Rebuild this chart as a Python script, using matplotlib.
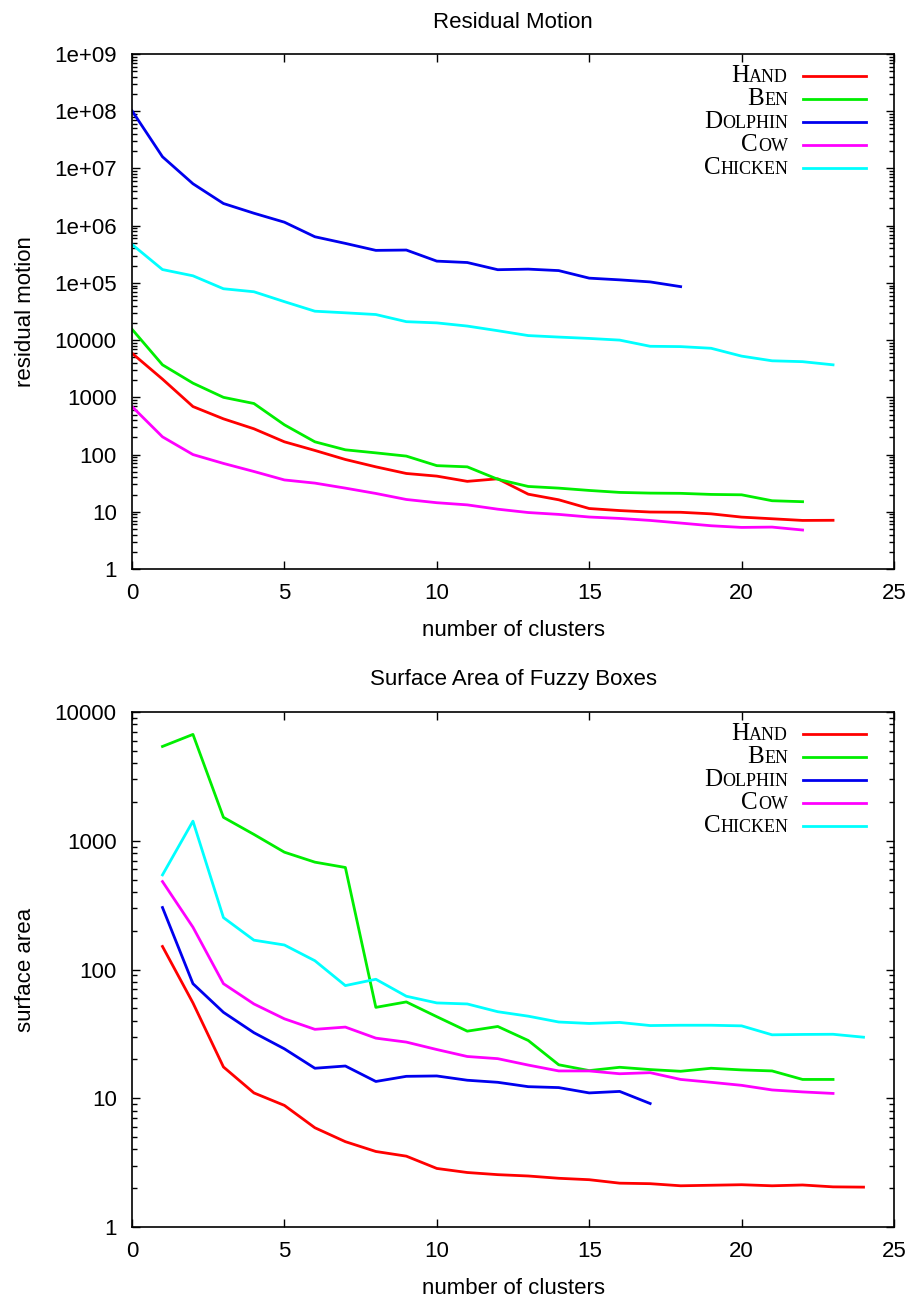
import matplotlib
matplotlib.use("Agg")
import matplotlib.pyplot as plt
import matplotlib.ticker as ticker
from matplotlib.lines import Line2D
from matplotlib.offsetbox import TextArea, HPacker, VPacker, DrawingArea, AnchoredOffsetbox

plt.rcParams['font.family'] = ['Liberation Sans', 'DejaVu Sans']

names = ['Hand', 'Ben', 'Dolphin', 'Cow', 'Chicken']
colors = ['#ff0000', '#00ee00', '#0000ee', '#ff00ff', '#00ffff']

# residual motion, x = 0..n
motion_hand = [5900, 2080, 690, 421, 282, 167, 118, 82, 61, 46.7, 42, 34, 37.7, 20.3,
               16.2, 11.4, 10.5, 9.9, 9.8, 9.2, 8.07, 7.55, 7.06, 7.1]
motion_ben = [15500, 3700, 1770, 1000, 780, 331, 167, 121, 107, 94, 64, 61, 37, 27.7,
              25.9, 23.6, 21.8, 21.2, 21, 20.1, 19.8, 15.6, 15.0]
motion_dolphin = [1.02e8, 1.6e7, 5.4e6, 2.44e6, 1.65e6, 1.15e6, 6.4e5, 4.9e5, 3.7e5, 3.75e5,
                  2.4e5, 2.27e5, 1.7e5, 1.74e5, 1.64e5, 1.21e5, 1.13e5, 1.04e5, 8.6e4]
motion_cow = [690, 204, 100, 70, 50.6, 36, 31.7, 25.9, 20.9, 16.4, 14.4, 13.2, 11.1, 9.7,
              9.0, 8.1, 7.65, 7.06, 6.35, 5.7, 5.33, 5.4, 4.8]
motion_chicken = [4.7e5, 1.71e5, 1.33e5, 7.9e4, 7.0e4, 4.7e4, 3.2e4, 3.0e4, 2.8e4, 2.1e4,
                  2.0e4, 1.76e4, 1.46e4, 1.2e4, 1.13e4, 1.07e4, 1.0e4, 7.8e3, 7.7e3, 7.2e3,
                  5.25e3, 4.35e3, 4.2e3, 3.7e3]

# surface area, x = 1..n
area_hand = [151, 55, 17.5, 11.0, 8.8, 5.9, 4.6, 3.86, 3.55, 2.85, 2.65, 2.55, 2.49,
             2.39, 2.33, 2.19, 2.17, 2.09, 2.11, 2.13, 2.09, 2.12, 2.05, 2.04]
area_ben = [5400, 6700, 1520, 1120, 815, 682, 620, 50.8, 56, 43, 33.2, 36.1, 28.1,
            18.2, 16.4, 17.4, 16.7, 16.2, 17.1, 16.6, 16.3, 14.0, 14.0]
area_dolphin = [303, 77.6, 46.5, 32.3, 24.2, 17.1, 17.8, 13.5, 14.8, 14.9, 13.8, 13.3,
                12.3, 12.1, 11.0, 11.3, 9.1]
area_cow = [482, 213, 77.6, 54, 41.4, 34.3, 35.7, 29.3, 27.3, 23.9, 21.1, 20.3, 18.1,
            16.3, 16.3, 15.5, 15.8, 14.0, 13.3, 12.6, 11.6, 11.2, 10.9]
area_chicken = [543, 1420, 253, 169, 155, 117, 75, 84, 62, 55, 54, 47, 43.4, 39.1, 38.1,
                38.8, 36.7, 36.9, 36.9, 36.5, 31.1, 31.3, 31.4, 29.8]


def fmt_g(v, pos):
	if v < 1e5:
		return '%d' % round(v)
	return '%.0e' % v


def small_caps(name):
	serif = ['Liberation Serif', 'DejaVu Serif']
	first = TextArea(name[0], textprops=dict(size=18, family=serif))
	rest = TextArea(name[1:].upper(), textprops=dict(size=13, family=serif))
	return HPacker(children=[first, rest], align='baseline', pad=0, sep=0)


def add_key(ax):
	rows = []
	for n, c in zip(names, colors):
		da = DrawingArea(45, 12, 0, 0)
		da.add_artist(Line2D([0, 45], [6, 6], color=c, lw=2))
		rows.append(HPacker(children=[small_caps(n), da], align='center', pad=0, sep=11))
	box = VPacker(children=rows, align='right', pad=0, sep=0.8)
	anch = AnchoredOffsetbox(loc='upper right', child=box, frameon=False, pad=0, borderpad=0,
		bbox_to_anchor=(0.963, 0.979), bbox_transform=ax.transAxes)
	ax.add_artist(anch)


def style_axes(ax, title, ylabel, ymax):
	ax.set_yscale('log')
	ax.set_xlim(0, 25)
	ax.set_ylim(1, ymax)
	ax.xaxis.set_major_locator(ticker.MultipleLocator(5))
	ax.yaxis.set_major_locator(ticker.LogLocator(base=10, numticks=20))
	ax.yaxis.set_minor_locator(ticker.LogLocator(base=10, subs=range(2, 10), numticks=20))
	ax.yaxis.set_minor_formatter(ticker.NullFormatter())
	ax.yaxis.set_major_formatter(ticker.FuncFormatter(fmt_g))
	ax.tick_params(which='both', direction='in', top=True, right=True, labelsize=16, width=1)
	ax.tick_params(which='major', length=6)
	ax.tick_params(which='minor', length=3.5)
	ax.tick_params(axis='y', pad=11)
	ax.tick_params(axis='x', pad=10)
	for s in ax.spines.values():
		s.set_linewidth(1.2)
	ax.set_xlabel('number of clusters', fontsize=16)
	ax.xaxis.set_label_coords(0.5, -0.099)
	ax.set_ylabel(ylabel, fontsize=16)
	ax.yaxis.set_label_coords(-0.1256, 0.5)
	ax.text(0.5, 1 + 32 / 515.0, title, transform=ax.transAxes, ha='center', va='center', fontsize=16)
	add_key(ax)


fig = plt.figure(figsize=(9.14, 13.0), dpi=100)
ax1 = fig.add_axes([132 / 914.0, 1 - 569 / 1300.0, 762 / 914.0, 515 / 1300.0])
ax2 = fig.add_axes([132 / 914.0, 1 - 1227 / 1300.0, 762 / 914.0, 515 / 1300.0])

motion = [motion_hand, motion_ben, motion_dolphin, motion_cow, motion_chicken]
for ys, c in zip(motion, colors):
	ax1.plot(range(len(ys)), ys, color=c, lw=2)
style_axes(ax1, 'Residual Motion', 'residual motion', 1e9)

area = [area_hand, area_ben, area_dolphin, area_cow, area_chicken]
for ys, c in zip(area, colors):
	ax2.plot(range(1, len(ys) + 1), ys, color=c, lw=2)
style_axes(ax2, 'Surface Area of Fuzzy Boxes', 'surface area', 1e4)

fig.savefig('out.png', dpi=100)
